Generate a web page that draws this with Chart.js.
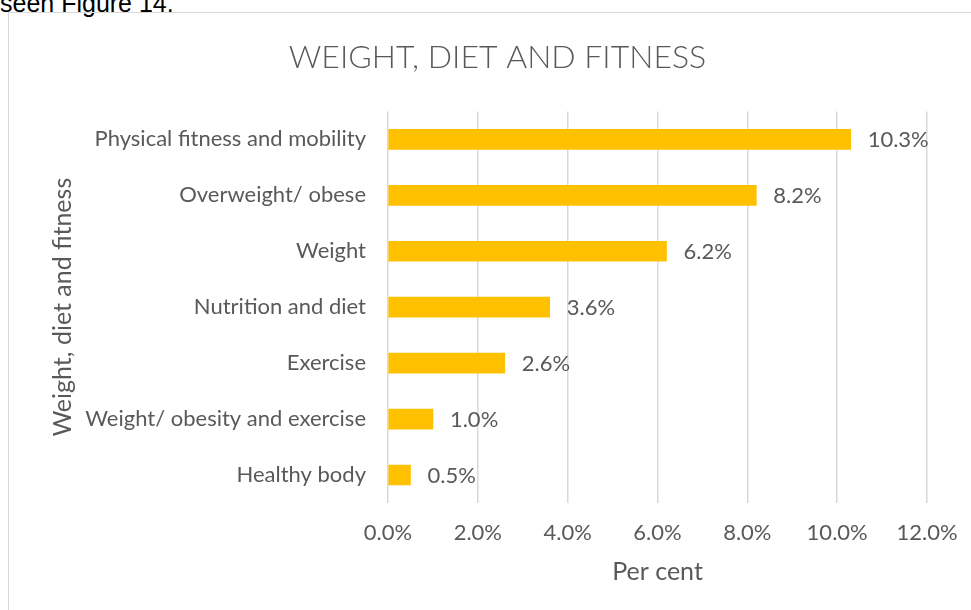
<!DOCTYPE html>
<html>
<head>
<meta charset="utf-8">
<script src="https://cdn.jsdelivr.net/npm/chart.js@4/dist/chart.umd.min.js"></script>
<style>
  html, body { margin: 0; padding: 0; background: #fff; overflow: hidden; }
  #lead { position: absolute; left: 0; top: -9px; font: 25px "Liberation Sans", Arial, sans-serif; color: #000; line-height: 24px; white-space: nowrap; }
  #frame { position: absolute; left: 8px; top: 12px; width: 1000px; height: 700px; border: 1.5px solid #d9d9d9; box-sizing: border-box; }
  #wrap { position: absolute; left: 0; top: 0; width: 971px; height: 610px; }
</style>
</head>
<body>
<div id="lead">seen Figure 14.</div>
<div id="frame"></div>
<div id="wrap"><canvas id="c" width="971" height="610"></canvas></div>
<script>
// Share of responses by topic, weight/diet/fitness group
const categories = [
  'Physical fitness and mobility',
  'Overweight/ obese',
  'Weight',
  'Nutrition and diet',
  'Exercise',
  'Weight/ obesity and exercise',
  'Healthy body'
];
const percentValues = [10.3, 8.2, 6.2, 3.6, 2.6, 1.0, 0.5];
const xTickValues = [0, 2, 4, 6, 8, 10, 12];

const FONT = 'Lato, "Open Sans", sans-serif';
const TEXT = '#595959';
const PAD_LEFT = 68;

// Writes each bar's value just past its end
const valueLabels = {
  id: 'valueLabels',
  afterDatasetsDraw(chart) {
    const ctx = chart.ctx;
    const meta = chart.getDatasetMeta(0);
    ctx.save();
    ctx.font = '22px ' + FONT;
    ctx.fillStyle = TEXT;
    ctx.textAlign = 'left';
    ctx.textBaseline = 'middle';
    meta.data.forEach((bar, i) => {
      ctx.fillText(percentValues[i].toFixed(1) + '%', bar.x + 17, bar.y + 1);
    });
    ctx.restore();
  }
};

new Chart(document.getElementById('c'), {
  type: 'bar',
  data: {
    labels: categories,
    datasets: [{
      data: percentValues,
      backgroundColor: '#FFC000',
      borderWidth: 0,
      barThickness: 20
    }]
  },
  options: {
    indexAxis: 'y',
    responsive: false,
    animation: false,
    events: [],
    layout: { padding: { left: PAD_LEFT, right: 44, top: 12, bottom: 12 } },
    plugins: {
      legend: { display: false },
      tooltip: { enabled: false },
      title: {
        display: true,
        text: 'WEIGHT, DIET AND FITNESS',
        color: TEXT,
        font: { family: FONT, size: 32, weight: 300 },
        padding: { top: 26, bottom: 35 }
      }
    },
    scales: {
      x: {
        min: 0,
        max: 12,
        afterBuildTicks(scale) { scale.ticks = xTickValues.map(v => ({ value: v })); },
        afterFit(scale) {
          scale.height = 610 - 12 - 503;
          // end labels fit inside the layout padding already
          scale.paddingLeft = 0;
          scale.paddingRight = 0;
        },
        ticks: {
          color: TEXT,
          font: { family: FONT, size: 22 },
          padding: 17,
          callback: v => v.toFixed(1) + '%'
        },
        grid: { color: '#d9d9d9', lineWidth: 1.5, drawTicks: false },
        border: { display: false },
        title: {
          display: true,
          text: 'Per cent',
          color: TEXT,
          font: { family: FONT, size: 25 },
          padding: { top: 0, bottom: 11 }
        }
      },
      y: {
        afterFit(scale) { scale.width = 388 - PAD_LEFT; },
        ticks: {
          color: TEXT,
          font: { family: FONT, size: 22 },
          padding: 22
        },
        grid: { display: false, drawTicks: false },
        border: { display: false },
        title: {
          display: true,
          text: 'Weight, diet and fitness',
          color: TEXT,
          font: { family: FONT, size: 25 },
          padding: { top: -20, bottom: 0 }
        }
      }
    }
  },
  plugins: [valueLabels]
});
</script>
</body>
</html>
